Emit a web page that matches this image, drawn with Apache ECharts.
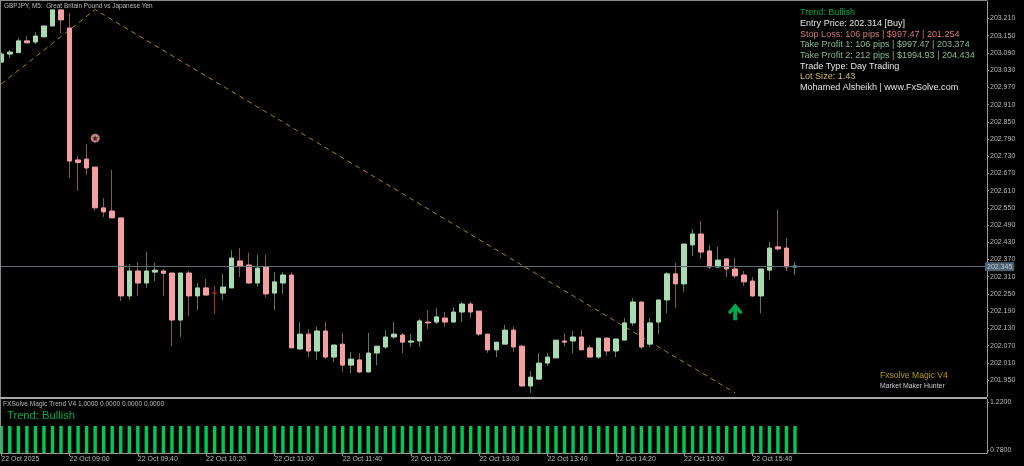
<!DOCTYPE html>
<html><head><meta charset="utf-8">
<style>html,body{margin:0;padding:0;background:#000;overflow:hidden;width:1024px;height:466px}#c{position:absolute;left:-3px;top:0;width:1027px;height:466px}</style>
<script src="https://cdn.jsdelivr.net/npm/echarts@6/dist/echarts.min.js"></script>
</head><body><div id="c"></div>
<script>
const opens=[203.058,203.086,203.091,203.132,203.128,203.146,203.184,203.240,203.177,202.717,202.720,202.692,202.550,202.539,202.515,202.243,202.330,202.288,202.326,202.330,202.323,202.159,202.323,202.243,202.271,202.253,202.253,202.271,202.365,202.351,202.288,202.344,202.253,202.288,202.316,202.058,202.110,202.051,202.121,202.030,202.075,202.002,202.020,201.978,202.044,202.065,202.100,202.107,202.082,202.086,202.152,202.152,202.166,202.152,202.187,202.215,202.190,202.110,202.055,202.075,202.124,202.068,201.929,201.953,202.009,202.027,202.086,202.086,202.100,202.062,202.030,202.096,202.051,202.089,202.149,202.222,202.075,202.152,202.229,202.320,202.285,202.421,202.459,202.400,202.344,202.372,202.337,202.316,202.295,202.243,202.333,202.414,202.410,202.344];
const closes=[203.086,203.093,203.132,203.125,203.149,203.184,203.240,203.205,202.713,202.708,202.689,202.550,202.536,202.515,202.243,202.330,202.288,202.330,202.333,202.322,202.159,202.323,202.243,202.271,202.246,202.253,202.274,202.375,202.347,202.288,202.340,202.250,202.292,202.316,202.062,202.110,202.051,202.121,202.030,202.072,202.002,202.023,201.978,202.044,202.068,202.100,202.110,202.082,202.086,202.156,202.149,202.170,202.152,202.187,202.215,202.187,202.110,202.055,202.082,202.124,202.065,201.929,201.960,202.009,202.030,202.089,202.082,202.100,202.055,202.030,202.096,202.051,202.093,202.149,202.222,202.065,202.149,202.229,202.320,202.285,202.424,202.459,202.396,202.344,202.368,202.337,202.313,202.292,202.243,202.337,202.410,202.407,202.344,202.347];
const highs=[203.093,203.100,203.142,203.149,203.163,203.184,203.240,203.240,203.229,202.731,202.773,202.692,202.584,202.682,202.515,202.354,202.361,202.396,202.358,202.337,202.323,202.323,202.330,202.288,202.302,202.278,202.320,202.403,202.410,202.393,202.386,202.386,202.326,202.326,202.326,202.152,202.128,202.135,202.152,202.072,202.114,202.048,202.044,202.114,202.068,202.124,202.152,202.114,202.110,202.163,202.194,202.201,202.187,202.204,202.222,202.222,202.190,202.110,202.082,202.142,202.135,202.072,201.981,202.044,202.044,202.089,202.114,202.121,202.124,202.072,202.096,202.100,202.093,202.166,202.236,202.222,202.166,202.229,202.326,202.358,202.424,202.476,202.504,202.421,202.414,202.372,202.375,202.330,202.309,202.337,202.431,202.543,202.445,202.361];
const lows=[203.055,203.072,203.090,203.125,203.121,203.146,203.184,203.158,202.654,202.609,202.665,202.540,202.518,202.515,202.225,202.229,202.243,202.271,202.295,202.243,202.068,202.100,202.173,202.194,202.246,202.180,202.229,202.271,202.309,202.285,202.274,202.239,202.194,202.250,202.062,202.055,202.030,202.020,202.023,202.013,201.978,201.974,201.974,201.978,202.002,202.058,202.093,202.044,202.065,202.065,202.128,202.145,202.135,202.152,202.152,202.166,202.103,202.044,202.030,202.075,202.048,201.929,201.905,201.950,201.999,202.027,202.068,202.044,202.055,202.030,202.023,202.034,202.030,202.089,202.138,202.058,202.065,202.110,202.183,202.201,202.257,202.382,202.372,202.337,202.340,202.309,202.306,202.278,202.239,202.183,202.299,202.400,202.330,202.316];
const trendBars=[0,11,86];
const trendPrices=[202.982,203.241,201.905];
const currentPrice=202.345;
const priceTicks=[203.210,203.150,203.090,203.030,202.970,202.910,202.850,202.790,202.730,202.670,202.610,202.550,202.490,202.430,202.370,202.310,202.250,202.190,202.130,202.070,202.010,201.950];
const timeTicks=["22 Oct 2025","22 Oct 09:00","22 Oct 09:40","22 Oct 10:20","22 Oct 11:00","22 Oct 11:40","22 Oct 12:20","22 Oct 13:00","22 Oct 13:40","22 Oct 14:20","22 Oct 15:00","22 Oct 15:40"];
const trendHistogram=opens.map(()=>1.0);
const indicatorTicks=[1.22,0.78];
const starMark=[11,202.793];
const arrowMark=[86,202.188];
const infoLines=[
 ["Trend: Bullish","#00a848"],
 ["Entry Price: 202.314 [Buy]","#e4e4e4"],
 ["Stop Loss: 106 pips | $997.47 | 201.254","#d07878"],
 ["Take Profit 1: 106 pips | $997.47 | 203.374","#86b890"],
 ["Take Profit 2: 212 pips | $1994.93 | 204.434","#86b890"],
 ["Trade Type: Day Trading","#e4e4e4"],
 ["Lot Size: 1.43","#d4b868"],
 ["Mohamed Alsheikh | www.FxSolve.com","#e4e4e4"]
];
const SLOTS=116;
const OFF=3; // the canvas starts 3px left of the page, so the first bar can sit at x≈1.5
const cats=Array.from({length:SLOTS},(_,i)=>String(i));
const font='"Liberation Sans"';
const isTick=i=>i%8===0&&i/8<timeTicks.length;
const UP='#a8dcb0',DOWN='#f4a0a0',UPW='#52805a',DOWNW='#8a5559';
const txt=(x,y,text,fill,size)=>({type:'text',x:x+OFF,y,z:50,silent:true,style:{text,fill,font:size+'px '+font,textVerticalAlign:'middle'}});
const rect=(x,y,w,h,c)=>({type:'rect',z:40,silent:true,shape:{x:x+OFF,y,width:w,height:h},style:{fill:c}});
const info=infoLines.map((l,i)=>txt(800,[12.7,23.7,34.3,45,55.3,66.3,77,87.7][i],l[0],l[1],9.05));
const chart=echarts.init(document.getElementById('c'),null,{renderer:'canvas'});
chart.setOption({
 backgroundColor:'#000',animation:false,
 grid:[{left:0,width:990,top:1,height:396},{left:0,width:990,top:399.5,height:53.5}],
 xAxis:[
  {type:'category',gridIndex:0,data:cats,show:false,boundaryGap:true},
  {type:'category',gridIndex:1,data:cats,boundaryGap:true,
   axisLine:{show:true,onZero:false,lineStyle:{color:'#9a9a9a',width:1}},
   axisTick:{show:true,length:3,alignWithLabel:true,interval:isTick,lineStyle:{color:'#9a9a9a'}},
   axisLabel:{show:true,interval:isTick,align:'left',margin:3,color:'#b8b8b8',fontFamily:font,fontSize:7,hideOverlap:false,
    formatter:(v,i)=>timeTicks[i/8]||''},
   splitLine:{show:false}}
 ],
 yAxis:[
  {type:'value',gridIndex:0,position:'right',min:201.8908,max:203.271,scale:true,splitLine:{show:false},
   axisLine:{show:true,lineStyle:{color:'#9a9a9a'}},
   axisTick:{show:true,length:2,customValues:priceTicks,lineStyle:{color:'#9a9a9a'}},
   axisLabel:{show:true,margin:3,color:'#b8b8b8',fontFamily:font,fontSize:7,customValues:priceTicks,formatter:v=>v.toFixed(3),showMinLabel:true,showMaxLabel:true}},
  {type:'value',gridIndex:1,position:'right',min:0.7525,max:1.243,scale:true,splitLine:{show:false},
   axisLine:{show:true,lineStyle:{color:'#9a9a9a'}},
   axisTick:{show:true,length:2,customValues:indicatorTicks,lineStyle:{color:'#9a9a9a'}},
   axisLabel:{show:true,margin:3,color:'#b8b8b8',fontFamily:font,fontSize:7,customValues:indicatorTicks,formatter:v=>v.toFixed(4)}}
 ],
 series:[
  {type:'line',name:'trend',xAxisIndex:0,yAxisIndex:0,z:1,symbol:'none',silent:true,
   data:trendBars.map((b,i)=>[b,trendPrices[i]]),
   lineStyle:{color:'#a8841a',width:1,type:[5,4]}},
  {type:'candlestick',name:'wicks',xAxisIndex:0,yAxisIndex:0,z:2,barWidth:1,silent:true,
   data:opens.map((o,i)=>[o,closes[i],lows[i],highs[i]]),
   itemStyle:{color:UPW,color0:DOWNW,borderColor:UPW,borderColor0:DOWNW,borderColorDoji:'#a83a14',borderWidth:1}},
  {type:'candlestick',name:'bodies',xAxisIndex:0,yAxisIndex:0,z:3,barWidth:5,silent:true,
   data:opens.map((o,i)=>[o,closes[i],Math.min(o,closes[i]),Math.max(o,closes[i])]),
   itemStyle:{color:UP,color0:DOWN,borderColor:UP,borderColor0:DOWN,borderColorDoji:'#a83a14',borderWidth:1},
   markLine:{silent:true,symbol:'none',animation:false,precision:3,
    data:[{yAxis:currentPrice}],
    lineStyle:{color:'#5f6e78',width:1,type:'solid'},
    label:{position:'end',distance:-2,formatter:()=>currentPrice.toFixed(3),color:'#c4cdd4',backgroundColor:'#4e6070',
     fontFamily:font,fontSize:7,padding:[1,2,1,2]}}},
  {type:'scatter',name:'star ring',xAxisIndex:0,yAxisIndex:0,z:4,silent:true,symbol:'circle',symbolSize:9,
   data:[starMark],itemStyle:{color:'#f4a0a0'}},
  {type:'scatter',name:'star',xAxisIndex:0,yAxisIndex:0,z:5,silent:true,
   symbol:'path://M5 0L6.2 3.5L10 3.6L7 5.9L8.1 9.5L5 7.4L1.9 9.5L3 5.9L0 3.6L3.8 3.5Z',symbolSize:6,
   data:[starMark],itemStyle:{color:'#200808'}},
  {type:'scatter',name:'arrow',xAxisIndex:0,yAxisIndex:0,z:5,silent:true,
   symbol:'path://M7.5 0L15 9L12.5 11L9.5 7.5L9.5 17L5.5 17L5.5 7.5L2.5 11L0 9Z',symbolSize:[15,17],
   data:[arrowMark],itemStyle:{color:'#00d060'}},
  {type:'bar',name:'histogram',xAxisIndex:1,yAxisIndex:1,z:2,barWidth:3.4,silent:true,
   data:trendHistogram,itemStyle:{color:'#00c853'}}
 ],
 graphic:[
  rect(0,0,987,1,'#8a8a8a'),rect(0,0,1,453,'#8a8a8a'),rect(0,397,987,2,'#a8a8a8'),
  txt(4,6,'GBPJPY, M5:  Great Britain Pound vs Japanese Yen','#b8b8b8',6.4),
  ...info,
  txt(880,376,'Fxsolve Magic V4','#b89a0a',8.6),
  txt(880,386,'Market Maker Hunter','#c8ccd0',6.9),
  txt(3,404,'FXSolve Magic Trend V4 1.0000 0.0000 0.0000 0.0000','#b8b8b8',6.6),
  txt(7,416,'Trend: Bullish','#00a848',11.2)
 ]
});
</script></body></html>
